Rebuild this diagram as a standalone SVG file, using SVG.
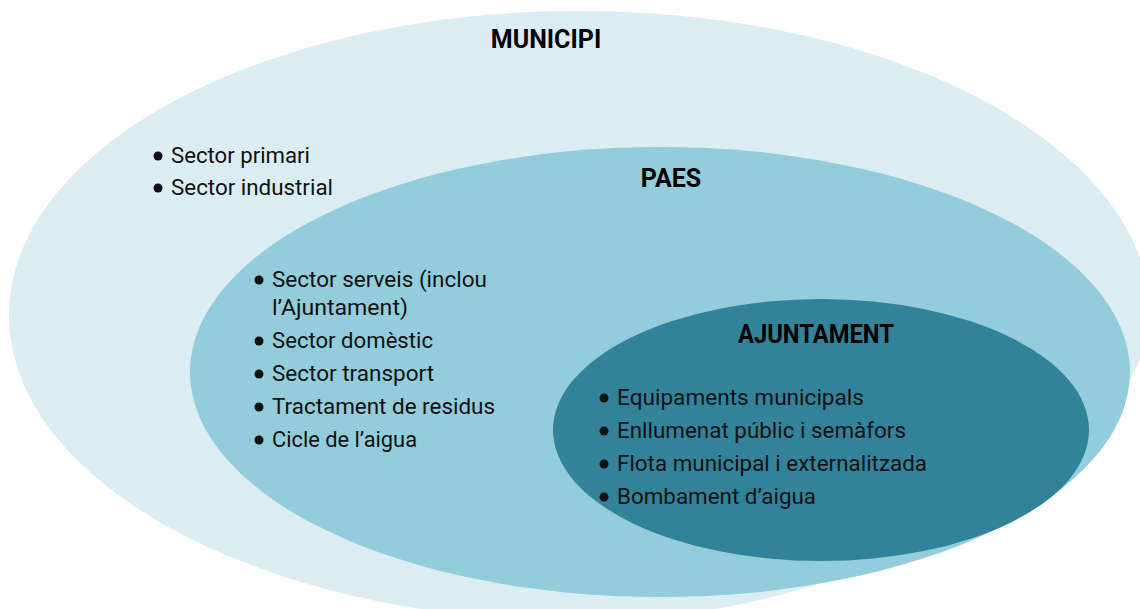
<svg xmlns="http://www.w3.org/2000/svg" width="1140" height="609" viewBox="0 0 1140 609">
  <style>
    .t { font-family: Roboto, "Liberation Sans", sans-serif; font-size: 22px; fill: #111; }
    .h { font-family: Roboto, "Liberation Sans", sans-serif; font-size: 25px; font-weight: bold; fill: #000; text-anchor: middle; }
    .b { fill: #111; }
  </style>
  <rect width="1140" height="609" fill="#ffffff"/>
  <g id="municipi">
    <path d="M 9,315 C 9,147 265,11 578,11 C 894,11 1150,147 1150,315 C 1150,440 880,621 580,621 C 265,621 9,484 9,315 Z" fill="#dbedf3"/>
    <text class="h" x="546" y="48">MUNICIPI</text>
    <circle class="b" cx="158" cy="156" r="4.5"/>
    <text class="t" x="171" y="163" textLength="139" lengthAdjust="spacingAndGlyphs">Sector primari</text>
    <circle class="b" cx="158" cy="188" r="4.5"/>
    <text class="t" x="171" y="195" textLength="162" lengthAdjust="spacingAndGlyphs">Sector industrial</text>
  </g>
  <g id="paes">
    <ellipse cx="660" cy="372" rx="470" ry="225" fill="#93cddb"/>
    <text class="h" x="671" y="187">PAES</text>
    <circle class="b" cx="259" cy="280" r="4.5"/>
    <text class="t" x="272" y="287" textLength="215" lengthAdjust="spacingAndGlyphs">Sector serveis (inclou</text>
    <text class="t" x="272" y="315" textLength="136" lengthAdjust="spacingAndGlyphs">l’Ajuntament)</text>
    <circle class="b" cx="259" cy="341" r="4.5"/>
    <text class="t" x="272" y="348" textLength="161" lengthAdjust="spacingAndGlyphs">Sector domèstic</text>
    <circle class="b" cx="259" cy="374" r="4.5"/>
    <text class="t" x="272" y="381" textLength="162" lengthAdjust="spacingAndGlyphs">Sector transport</text>
    <circle class="b" cx="259" cy="407" r="4.5"/>
    <text class="t" x="272" y="414" textLength="223" lengthAdjust="spacingAndGlyphs">Tractament de residus</text>
    <circle class="b" cx="259" cy="440" r="4.5"/>
    <text class="t" x="272" y="447" textLength="145" lengthAdjust="spacingAndGlyphs">Cicle de l’aigua</text>
  </g>
  <g id="ajuntament">
    <ellipse cx="821" cy="430" rx="268" ry="131" fill="#32839a"/>
    <text class="h" x="816" y="343" textLength="156" lengthAdjust="spacingAndGlyphs">AJUNTAMENT</text>
    <circle class="b" cx="604" cy="398" r="4.5"/>
    <text class="t" x="617" y="405" textLength="247" lengthAdjust="spacingAndGlyphs">Equipaments municipals</text>
    <circle class="b" cx="604" cy="431" r="4.5"/>
    <text class="t" x="617" y="438" textLength="289" lengthAdjust="spacingAndGlyphs">Enllumenat públic i semàfors</text>
    <circle class="b" cx="604" cy="464" r="4.5"/>
    <text class="t" x="617" y="471" textLength="310" lengthAdjust="spacingAndGlyphs">Flota municipal i externalitzada</text>
    <circle class="b" cx="604" cy="497" r="4.5"/>
    <text class="t" x="617" y="504" textLength="199" lengthAdjust="spacingAndGlyphs">Bombament d’aigua</text>
  </g>
  <g id="connectors"/>
</svg>
